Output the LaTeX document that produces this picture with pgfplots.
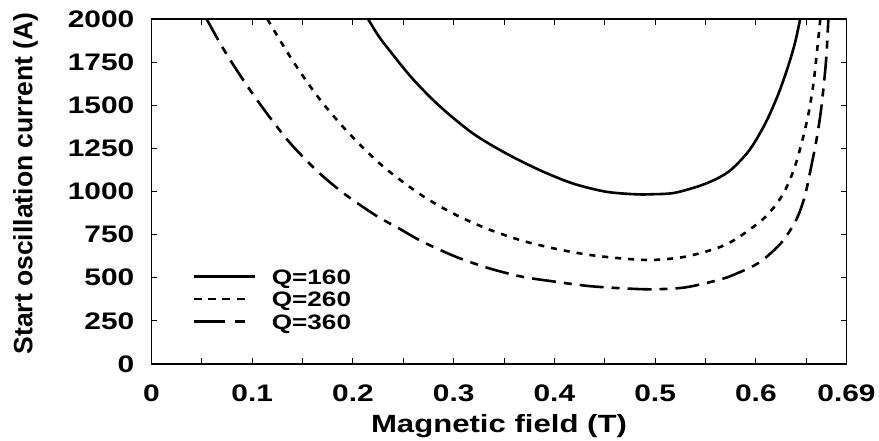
\documentclass[border=0pt]{standalone}
\usepackage{fontspec}
\setmainfont{Liberation Sans}[FakeStretch=1.25]
\newfontfamily\ylabfont{Liberation Sans}
\usepackage{pgfplots}
\pgfplotsset{compat=1.18}

\begin{document}
\begin{tikzpicture}
\useasboundingbox (-151.5bp,-77bp) rectangle (727.5bp,364bp);
\begin{axis}[
    scale only axis,
    width=695bp, height=345bp,
    xmin=0, xmax=0.69,
    ymin=0, ymax=2000,
    axis line style={line width=1.6bp},
    tick style={line width=1bp, black},
    tick align=inside,
    major tick length=6bp, minor tick length=6bp,
    xtick={0,0.1,0.2,0.3,0.4,0.5,0.6,0.69},
    xticklabels={0,0.1,0.2,0.3,0.4,0.5,0.6,0.69},
    minor xtick={0.05,0.15,0.25,0.35,0.45,0.55,0.65},
    ytick={0,250,500,750,1000,1250,1500,1750,2000},
    yticklabels={0,250,500,750,1000,1250,1500,1750,2000},
    /pgf/number format/assume math mode=true,
    ticklabel style={font=\fontsize{24}{24}\selectfont\bfseries, inner sep=0pt},
    xticklabel style={anchor=north, yshift=-21bp},
    yticklabel style={anchor=east, xshift=-17bp},
    xlabel={Magnetic field (T)},
    ylabel={Start oscillation current (A)},
    xlabel style={font=\fontsize{25}{25}\selectfont\bfseries, inner sep=0pt,
        at={(axis description cs:0.5,-0.145)}, anchor=north},
    ylabel style={font=\fontsize{26.6}{26.6}\selectfont\ylabfont\bfseries, inner sep=0pt,
        at={(axis description cs:-0.1993,0.523)}, anchor=north},
    legend style={draw=none, fill=none,
        at={(axis description cs:0.0583,0.2754)}, anchor=north west,
        inner sep=0pt, row sep=7.5bp, column sep=16bp,
        font=\fontsize{21}{21}\selectfont\bfseries,
        nodes={inner sep=0pt, text height=15bp, text depth=0pt}},
    legend cell align=left,
]

% Q=160
\addplot[black, line width=2.6bp, smooth,
    legend image code/.code={\draw[black, line width=2.6bp] (0bp,0bp) -- (61bp,0bp);}]
coordinates {
    (0.215,2000)(0.225,1905)(0.236,1820)(0.259,1655)(0.286,1495)(0.319,1337)
    (0.352,1221)(0.385,1125)(0.418,1047)(0.451,999)(0.480,984)(0.497,984)
    (0.520,993)(0.550,1045)(0.573,1115)(0.593,1235)(0.609,1390)(0.622,1560)
    (0.632,1725)(0.639,1865)(0.644,2000)
};
\addlegendentry{Q=160}

% Q=260
\addplot[black, line width=2.6bp, smooth, dash pattern=on 6bp off 7bp,
    legend image code/.code={\draw[black, line width=2.6bp, dash pattern=on 8bp off 6.33bp] (0bp,0bp) -- (51bp,0bp);}]
coordinates {
    (0.115,2000)(0.134,1815)(0.150,1672)(0.167,1535)(0.187,1395)(0.208,1265)
    (0.233,1130)(0.269,975)(0.302,865)(0.335,780)(0.368,715)(0.401,668)
    (0.434,633)(0.467,612)(0.497,603)(0.530,622)(0.563,675)(0.583,735)
    (0.609,850)(0.626,975)(0.637,1115)(0.645,1270)(0.652,1443)(0.657,1617)
    (0.660,1772)(0.664,2000)
};
\addlegendentry{Q=260}

% Q=360
\addplot[black, line width=2.6bp, smooth, dash pattern=on 24bp off 8bp on 8bp off 8bp,
    legend image code/.code={\draw[black, line width=2.6bp, dash pattern=on 31bp off 10bp on 10bp off 10bp] (0bp,0bp) -- (51bp,0bp);}]
coordinates {
    (0.0547,2000)(0.070,1840)(0.085,1700)(0.100,1570)(0.120,1410)(0.140,1265)
    (0.167,1105)(0.193,980)(0.223,860)(0.246,785)(0.269,709)(0.302,622)
    (0.335,555)(0.368,506)(0.401,477)(0.434,452)(0.467,439)(0.497,433)
    (0.530,444)(0.563,487)(0.573,505)(0.6025,585)(0.6256,705)(0.6404,840)
    (0.6487,975)(0.6553,1154)(0.6602,1300)(0.6645,1463)(0.6678,1637)
    (0.6701,1791)(0.672,2000)
};
\addlegendentry{Q=360}

\end{axis}
\end{tikzpicture}
\end{document}
